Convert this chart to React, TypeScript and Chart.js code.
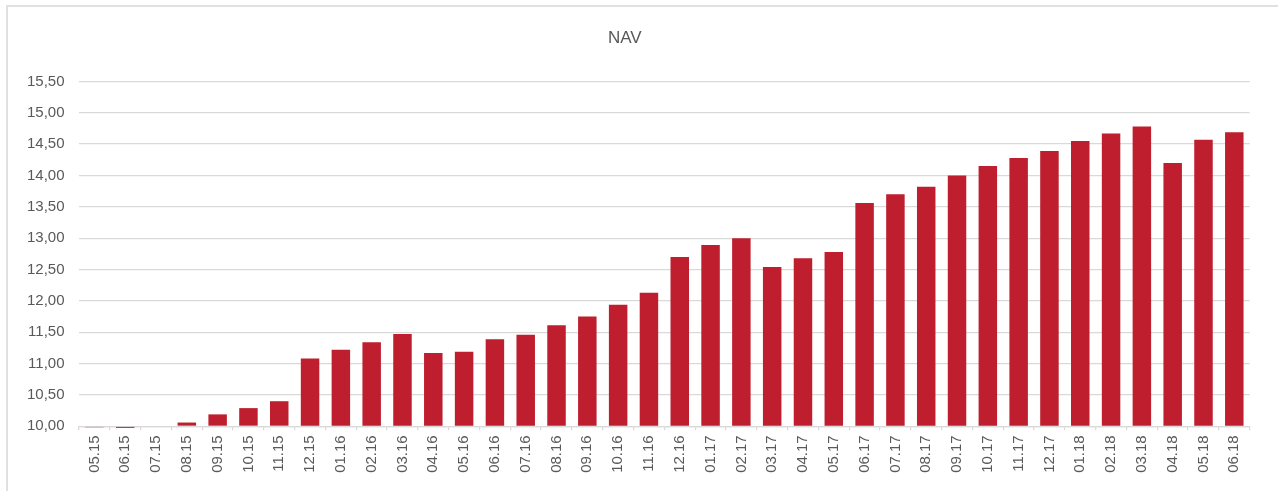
import React, { useEffect, useRef } from "react";
import { Chart, registerables } from "chart.js";

Chart.register(...registerables);

const categories: string[] = [
  "05.15", "06.15", "07.15", "08.15", "09.15", "10.15", "11.15", "12.15",
  "01.16", "02.16", "03.16", "04.16", "05.16", "06.16", "07.16", "08.16",
  "09.16", "10.16", "11.16", "12.16", "01.17", "02.17", "03.17", "04.17",
  "05.17", "06.17", "07.17", "08.17", "09.17", "10.17", "11.17", "12.17",
  "01.18", "02.18", "03.18", "04.18", "05.18", "06.18",
];

const navValues: number[] = [
  9.985, 9.975, 9.99, 10.06, 10.19, 10.29, 10.4, 11.08,
  11.22, 11.34, 11.47, 11.17, 11.19, 11.39, 11.46, 11.61,
  11.75, 11.94, 12.13, 12.7, 12.89, 13.0, 12.54, 12.68,
  12.78, 13.56, 13.7, 13.82, 14.0, 14.15, 14.28, 14.39,
  14.55, 14.67, 14.78, 14.2, 14.57, 14.69,
];

const yMin = 10;
const yMax = 15.5;
const yStep = 0.5;

const titleText = "NAV";

export default function App() {
  const canvasRef = useRef<HTMLCanvasElement | null>(null);

  useEffect(() => {
    document.body.style.margin = "0";
    const canvas = canvasRef.current;
    if (!canvas) return;
    const font = "'Liberation Sans', Arial, sans-serif";
    const textColor = "#595959";
    const gridColor = "#d9d9d9";
    const chart = new Chart(canvas, {
      type: "bar",
      data: {
        labels: categories,
        datasets: [
          {
            label: titleText,
            data: navValues,
            backgroundColor: "#be1e2d",
            borderWidth: 0,
            barPercentage: 0.6,
            categoryPercentage: 1,
            base: yMin,
            clip: false,
          } as any,
        ],
      },
      options: {
        responsive: false,
        animation: false,
        devicePixelRatio: 1,
        layout: { padding: { left: 0, right: 28.3, top: 0, bottom: 0 } },
        plugins: {
          legend: { display: false },
          tooltip: { enabled: false },
          title: {
            display: true,
            text: titleText,
            color: textColor,
            font: { family: font, size: 17, weight: "normal", lineHeight: 1.2 },
            padding: { top: 28.5, bottom: 32.5 },
          },
        },
        scales: {
          x: {
            offset: true,
            grid: {
              display: true,
              drawOnChartArea: false,
              drawTicks: true,
              tickLength: 4,
              color: gridColor,
              lineWidth: 1.25,
              offset: true,
            },
            border: { display: true, color: gridColor, width: 1.25 },
            ticks: {
              autoSkip: false,
              maxRotation: 90,
              minRotation: 90,
              padding: 5,
              color: textColor,
              font: { family: font, size: 15 },
            },
            afterFit: (scale: any) => {
              scale.height = 64.7;
            },
          },
          y: {
            min: yMin,
            max: yMax,
            grid: {
              color: gridColor,
              lineWidth: 1.25,
              drawTicks: false,
            },
            border: { display: false },
            ticks: {
              stepSize: yStep,
              padding: 14.5,
              color: textColor,
              font: { family: font, size: 15 },
              callback: (v: any) => Number(v).toFixed(2).replace(".", ","),
            },
            afterFit: (scale: any) => {
              scale.width = 79;
            },
          },
        },
      },
    });
    return () => chart.destroy();
  }, []);

  return (
    <div style={{ position: "relative", width: 1278, height: 491, overflow: "hidden", background: "#fff" }}>
      <div
        style={{
          position: "absolute",
          left: 6,
          top: 5,
          right: -10,
          bottom: -10,
          borderTop: "2px solid #e0e0e0",
          borderLeft: "2px solid #e0e0e0",
        }}
      />
      <canvas
        ref={canvasRef}
        width={1278}
        height={491}
        style={{ position: "absolute", left: 0, top: 0, width: 1278, height: 491 }}
      />
    </div>
  );
}
